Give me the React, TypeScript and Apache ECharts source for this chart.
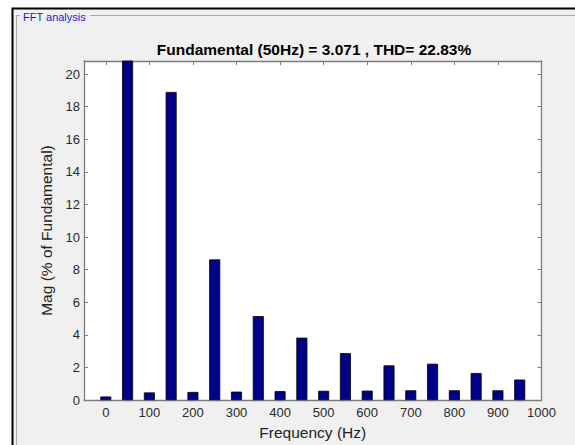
import React, { useEffect, useRef } from "react";
import * as echarts from "echarts";

const frequencies = [0, 50, 100, 150, 200, 250, 300, 350, 400, 450, 500, 550, 600, 650, 700, 750, 800, 850, 900, 950];
const magnitudes = [0.22, 100, 0.47, 18.9, 0.5, 8.63, 0.52, 5.15, 0.55, 3.83, 0.57, 2.88, 0.58, 2.13, 0.6, 2.23, 0.6, 1.66, 0.6, 1.26];
const xTicks = [0, 100, 200, 300, 400, 500, 600, 700, 800, 900, 1000];
const yTicks = [0, 2, 4, 6, 8, 10, 12, 14, 16, 18, 20];

const titleText = "Fundamental (50Hz) = 3.071 , THD= 22.83%";
const panelText = "FFT analysis";
const FONT = "'Liberation Sans', Arial, Helvetica, sans-serif";
const AXIS_GREY = "#7c7c7c";

export default function App() {
  const ref = useRef<HTMLDivElement>(null);
  useEffect(() => {
    document.body.style.margin = "0";
    const chart = echarts.init(ref.current!, undefined, { renderer: "svg" });
    const xMin = -50;
    const xMax = 1000;
    const yMax = 20.8;
    const tickStyle = { show: true, inside: true, length: 4, lineStyle: { color: AXIS_GREY, width: 1 } };
    const lineStyle = { show: true, onZero: false, lineStyle: { color: AXIS_GREY, width: 1.3 } };
    const plain = (v: number) => String(v);
    chart.setOption({
      animation: false,
      backgroundColor: "#ffffff",
      textStyle: { fontFamily: FONT },
      title: {
        text: titleText,
        left: 309,
        textAlign: "center",
        top: 36,
        textStyle: { fontFamily: FONT, fontSize: 15.5, fontWeight: "bold", color: "#000" },
      },
      graphic: [
        {
          type: "rect",
          z: -100,
          silent: true,
          shape: { x: 12.5, y: 8.5, width: 700, height: 600 },
          style: { fill: "#f0f0f0", stroke: "#000", lineWidth: 2 },
        },
        {
          type: "polyline",
          z: -90,
          silent: true,
          shape: { points: [[20, 15.5], [16.5, 15.5], [16.5, 460]] },
          style: { fill: "none", stroke: "#a8a8a8", lineWidth: 1 },
        },
        {
          type: "line",
          z: -90,
          silent: true,
          shape: { x1: 90, y1: 15.5, x2: 580, y2: 15.5 },
          style: { stroke: "#a8a8a8", lineWidth: 1 },
        },
        {
          type: "text",
          z: -80,
          silent: true,
          x: 23,
          y: 17,
          style: { text: panelText, fill: "#1a1adc", font: `11px ${FONT}`, verticalAlign: "middle" },
        },
      ],
      grid: {
        left: 84,
        right: 33.5,
        top: 61,
        bottom: 42.7,
        show: true,
        backgroundColor: "#ffffff",
        borderWidth: 0,
      },
      xAxis: [
        {
          type: "value",
          min: xMin,
          max: xMax,
          position: "bottom",
          name: "Frequency (Hz)",
          nameLocation: "middle",
          nameGap: 23,
          nameTextStyle: { fontFamily: FONT, fontSize: 15.5, color: "#222" },
          axisLine: lineStyle,
          axisTick: { ...tickStyle, customValues: xTicks },
          axisLabel: { customValues: xTicks, formatter: plain, margin: 6, fontFamily: FONT, fontSize: 13, color: "#2a2a2a" },
          splitLine: { show: false },
        },
        {
          type: "value",
          min: xMin,
          max: xMax,
          position: "top",
          axisLine: lineStyle,
          axisTick: { ...tickStyle, customValues: xTicks },
          axisLabel: { show: false, customValues: xTicks },
          splitLine: { show: false },
        },
      ],
      yAxis: [
        {
          type: "value",
          min: 0,
          max: yMax,
          position: "left",
          name: "Mag (% of Fundamental)",
          nameLocation: "middle",
          nameGap: 23,
          nameTextStyle: { fontFamily: FONT, fontSize: 15.5, color: "#222" },
          axisLine: lineStyle,
          axisTick: { ...tickStyle, customValues: yTicks },
          axisLabel: { customValues: yTicks, formatter: plain, margin: 4, fontFamily: FONT, fontSize: 13, color: "#2a2a2a" },
          splitLine: { show: false },
        },
        {
          type: "value",
          min: 0,
          max: yMax,
          position: "right",
          axisLine: lineStyle,
          axisTick: { ...tickStyle, customValues: yTicks },
          axisLabel: { show: false, customValues: yTicks },
          splitLine: { show: false },
        },
      ],
      series: [
        {
          type: "bar",
          xAxisIndex: 0,
          yAxisIndex: 0,
          barWidth: 11,
          clip: true,
          data: frequencies.map((f, i) => [f, magnitudes[i]]),
          itemStyle: { color: "#000088", borderColor: "#000000", borderWidth: 0.8 },
        },
      ],
    });
    return () => chart.dispose();
  }, []);
  return <div ref={ref} style={{ width: 575, height: 445 }} />;
}
